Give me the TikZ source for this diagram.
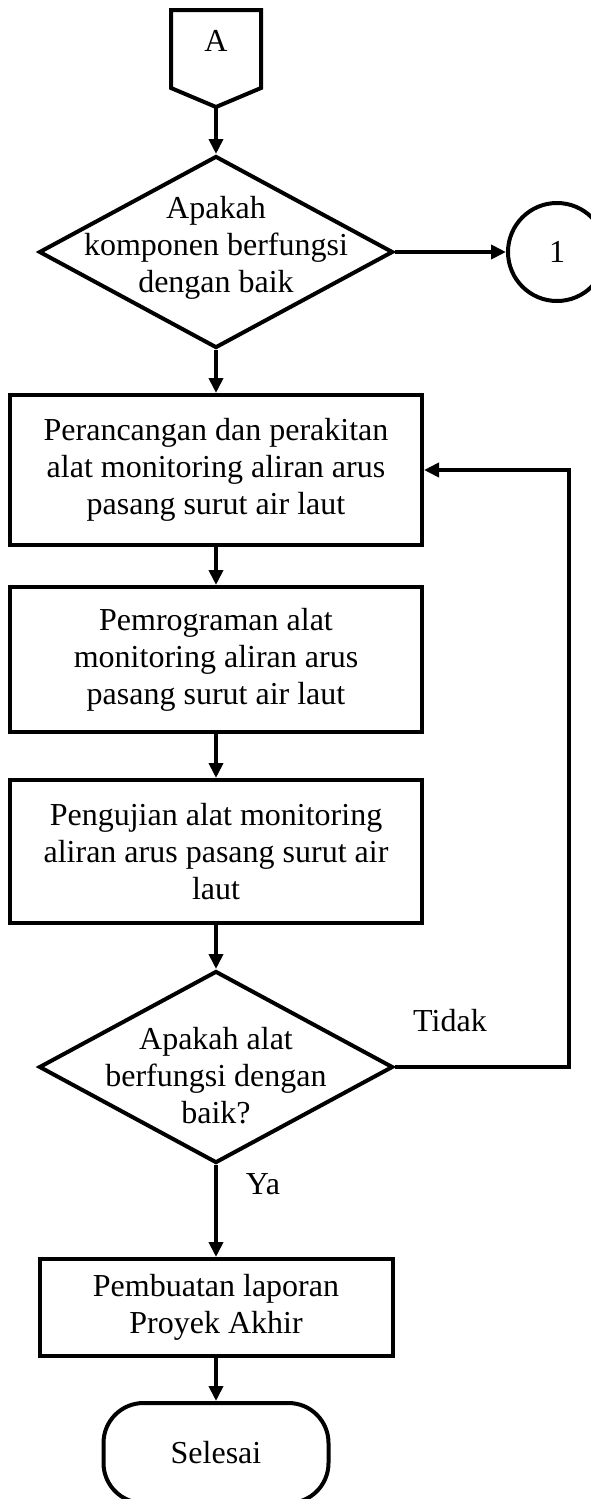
\documentclass[tikz,border=0pt]{standalone}
\usepackage{fontspec}
\setmainfont{Liberation Serif}
\usetikzlibrary{arrows.meta,shapes.geometric,shapes.misc}
\begin{document}
\begin{tikzpicture}[x=1pt,y=-1pt,
  lw/.style={line width=4pt},
  proc/.style={draw, lw, rectangle, align=center, inner sep=0pt,
    font=\fontsize{32}{37}\selectfont},
  dec/.style={draw, lw, diamond, aspect=1.84, minimum width=354pt,
    minimum height=192pt, inner sep=0pt},
  txt/.style={align=center, inner sep=0pt, font=\fontsize{32}{37}\selectfont},
  term/.style={draw, lw, rectangle, rounded corners=40pt, align=center,
    inner sep=0pt, font=\fontsize{32}{37}\selectfont},
  conn/.style={draw, lw, circle, inner sep=0pt, font=\fontsize{32}{37}\selectfont},
  arr/.style={lw, -{Triangle[length=15pt,width=14pt]}}
]
\clip (0,0) rectangle (591,1499);
\useasboundingbox (0,0) rectangle (591,1499);

% off-page connector A
\draw[lw] (171,10) -- (261,10) -- (261,88) -- (216,107) -- (171,88) -- cycle;
\node[txt] (A) at (216,41) {A};
\coordinate (Atip) at (216,107);

% decision 1
\node[dec] (d1) at (216,252) {};
\node[txt] (d1t) at (216,248) {Apakah\\komponen berfungsi\\dengan baik};
\node[conn, minimum size=98pt] (c1) at (557,252) {1};

% process boxes
\node[proc, minimum width=412pt, minimum height=150pt] (p1) at (216,470)
  {Perancangan dan perakitan\\alat monitoring aliran arus\\pasang surut air laut};
\node[proc, minimum width=412pt, minimum height=145pt] (p2) at (216,659.5)
  {Pemrograman alat\\monitoring aliran arus\\pasang surut air laut};
\node[proc, minimum width=412pt, minimum height=143pt] (p3) at (216,851.5)
  {Pengujian alat monitoring\\aliran arus pasang surut air\\laut};

% decision 2
\node[dec] (d2) at (216,1067) {};
\node[txt] (d2t) at (216,1076) {Apakah alat\\berfungsi dengan\\baik?};

% final box and terminator
\node[proc, minimum width=353pt, minimum height=97pt] (p4) at (216,1307.5)
  {Pembuatan laporan\\Proyek Akhir};
\node[term, minimum width=225pt, minimum height=100pt] (end) at (216,1453) {Selesai};

% labels
\node[txt] (tidak) at (450,1021) {Tidak};
\node[txt] (ya) at (263,1184) {Ya};

% connectors
\draw[arr] (Atip) -- (d1.north);
\draw[arr] (d1.east) -- (c1.west);
\draw[arr] (d1.south) -- (p1.north);
\draw[arr] (p1.south) -- (p2.north);
\draw[arr] (p2.south) -- (p3.north);
\draw[arr] (p3.south) -- (d2.north);
\draw[arr] (d2.south) -- (p4.north);
\draw[arr] (p4.south) -- (end.north);
\coordinate (loop) at (569,1067);
\draw[arr] (d2.east) -- (loop) |- (p1.east);
\end{tikzpicture}
\end{document}
